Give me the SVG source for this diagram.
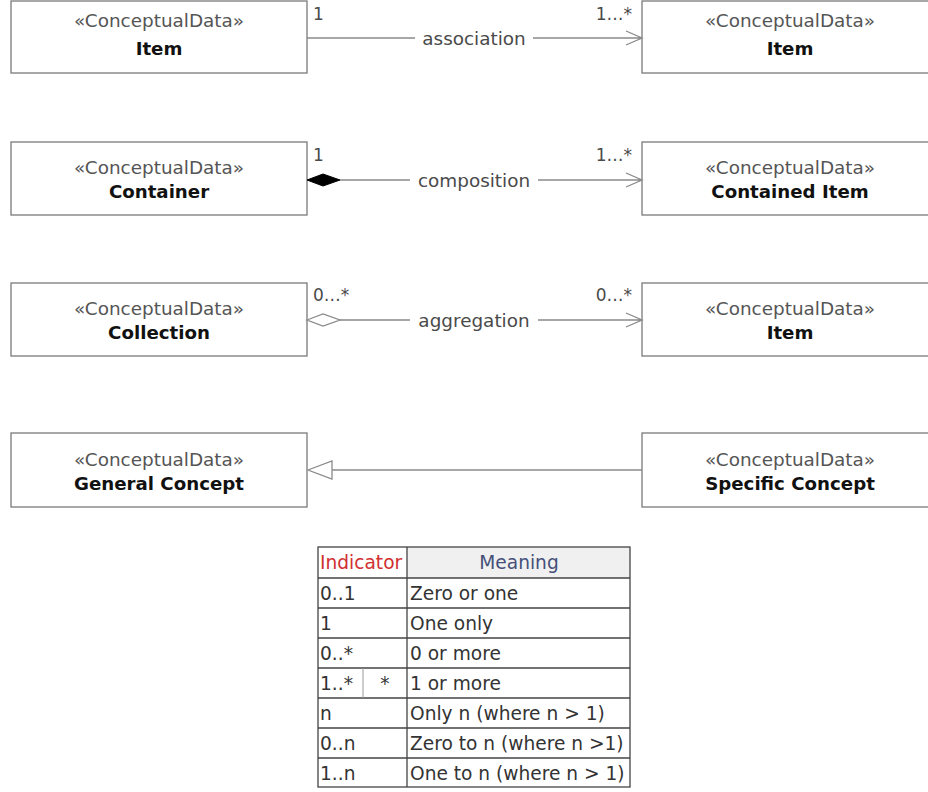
<svg xmlns="http://www.w3.org/2000/svg" width="928" height="792" viewBox="0 0 928 792">
  <style>
    .box { fill: #ffffff; stroke: #7a7a7a; stroke-width: 1.3; }
    .stereo { font-family: "DejaVu Sans", Verdana, sans-serif; font-size: 18.4px; fill: #555555; text-anchor: middle; }
    .name { font-family: "DejaVu Sans", Verdana, sans-serif; font-size: 18.2px; font-weight: bold; fill: #111111; text-anchor: middle; }
    .conn { stroke: #8a8a8a; stroke-width: 1.3; fill: none; }
    .lbl { font-family: "DejaVu Sans", Verdana, sans-serif; font-size: 18.4px; fill: #4a4a4a; }
    .mult { font-family: "DejaVu Sans", Verdana, sans-serif; font-size: 17px; fill: #4a4a4a; }
    .grid { stroke: #444444; stroke-width: 1.3; fill: none; }
    .cell { font-family: "DejaVu Sans", Verdana, sans-serif; font-size: 18.6px; fill: #333333; }
  </style>

  <!-- classes -->
  <g id="item-a"><rect class="box" x="11" y="1" width="296" height="72"/>
    <text class="stereo" x="159" y="27">«ConceptualData»</text><text class="name" x="159" y="55">Item</text></g>
  <g id="item-b"><rect class="box" x="642" y="1" width="296" height="72"/>
    <text class="stereo" x="790" y="27">«ConceptualData»</text><text class="name" x="790" y="55">Item</text></g>

  <g id="container"><rect class="box" x="11" y="142" width="296" height="73"/>
    <text class="stereo" x="159" y="174">«ConceptualData»</text><text class="name" x="159" y="198">Container</text></g>
  <g id="contained-item"><rect class="box" x="642" y="142" width="296" height="73"/>
    <text class="stereo" x="790" y="174">«ConceptualData»</text><text class="name" x="790" y="198">Contained Item</text></g>

  <g id="collection"><rect class="box" x="11" y="283" width="296" height="73"/>
    <text class="stereo" x="159" y="315">«ConceptualData»</text><text class="name" x="159" y="339">Collection</text></g>
  <g id="item-c"><rect class="box" x="642" y="283" width="296" height="73"/>
    <text class="stereo" x="790" y="315">«ConceptualData»</text><text class="name" x="790" y="339">Item</text></g>

  <g id="general-concept"><rect class="box" x="11" y="433" width="296" height="74"/>
    <text class="stereo" x="159" y="466">«ConceptualData»</text><text class="name" x="159" y="490">General Concept</text></g>
  <g id="specific-concept"><rect class="box" x="642" y="433" width="296" height="74"/>
    <text class="stereo" x="790" y="466">«ConceptualData»</text><text class="name" x="790" y="490">Specific Concept</text></g>

  <!-- relationships -->
  <g id="connectors">
    <!-- association -->
    <path class="conn" d="M307,38 H415 M533,38 H642 M626,31 L642,38 L626,45"/>
    <text class="lbl" x="474" y="45" text-anchor="middle">association</text>
    <text class="mult" x="313" y="20">1</text>
    <text class="mult" x="632" y="20" text-anchor="end">1…*</text>

    <!-- composition -->
    <path class="conn" d="M340,180 H410 M538,180 H642 M626,173 L642,180 L626,187"/>
    <polygon points="307,180 323,174 340,180 323,186" fill="#000000" stroke="#000000" stroke-width="1"/>
    <text class="lbl" x="474" y="187" text-anchor="middle">composition</text>
    <text class="mult" x="313" y="161">1</text>
    <text class="mult" x="632" y="161" text-anchor="end">1…*</text>

    <!-- aggregation -->
    <path class="conn" d="M340,320 H410 M538,320 H642 M626,313 L642,320 L626,327"/>
    <polygon points="307,320 323,314 340,320 323,326" fill="#ffffff" stroke="#8a8a8a" stroke-width="1.3"/>
    <text class="lbl" x="474" y="327" text-anchor="middle">aggregation</text>
    <text class="mult" x="313" y="301">0…*</text>
    <text class="mult" x="632" y="301" text-anchor="end">0…*</text>

    <!-- generalization -->
    <path class="conn" d="M332,470 H642"/>
    <polygon points="308,470 332,461 332,479" fill="#ffffff" stroke="#8a8a8a" stroke-width="1.3"/>
  </g>

  <!-- multiplicity legend -->
  <g id="legend">
    <rect x="407" y="547" width="223" height="31" fill="#f0f0f0"/>
    <rect class="grid" x="318" y="547" width="312" height="240" stroke="#777777"/>
    <path class="grid" d="M407,547 V787 M318,578 H630 M318,608 H630 M318,638 H630 M318,668 H630 M318,698 H630 M318,728 H630 M318,758 H630"/>
    <path d="M363,668 V698" stroke="#999999" stroke-width="1"/>
    <text class="cell" x="320" y="569" style="fill:#d03030">Indicator</text>
    <text class="cell" x="519" y="569" text-anchor="middle" style="fill:#45507a">Meaning</text>
    <text class="cell" x="320" y="600">0..1</text><text class="cell" x="410" y="600">Zero or one</text>
    <text class="cell" x="320" y="630">1</text><text class="cell" x="410" y="630">One only</text>
    <text class="cell" x="320" y="660">0..*</text><text class="cell" x="410" y="660">0 or more</text>
    <text class="cell" x="320" y="690">1..*</text><text class="cell" x="385" y="690" text-anchor="middle">*</text><text class="cell" x="410" y="690">1 or more</text>
    <text class="cell" x="320" y="720">n</text><text class="cell" x="410" y="720">Only n (where n &gt; 1)</text>
    <text class="cell" x="320" y="750">0..n</text><text class="cell" x="410" y="750">Zero to n (where n &gt;1)</text>
    <text class="cell" x="320" y="780">1..n</text><text class="cell" x="410" y="780">One to n (where n &gt; 1)</text>
  </g>
</svg>
